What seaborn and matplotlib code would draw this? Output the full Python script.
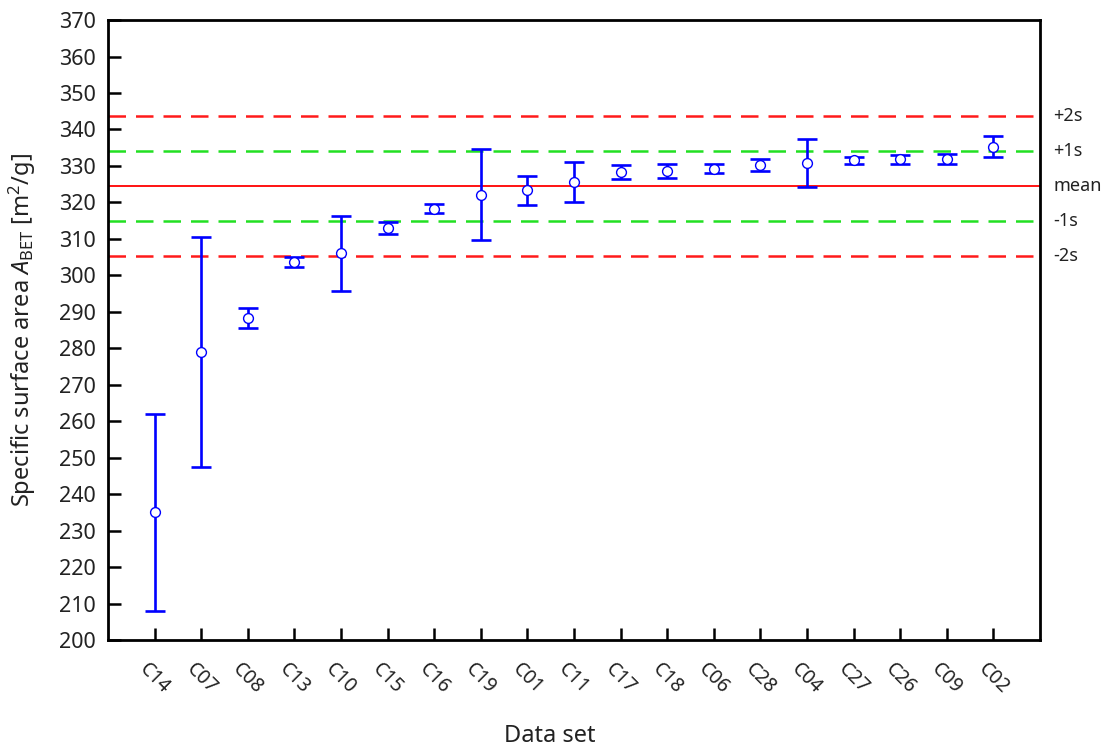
import numpy as np
import pandas as pd
import matplotlib
matplotlib.use("Agg")
import matplotlib.pyplot as plt
import matplotlib.transforms as mtransforms
import seaborn as sns

# Data sets ordered by mean specific surface area
datasets = ["C14", "C07", "C08", "C13", "C10", "C15", "C16", "C19", "C01", "C11",
            "C17", "C18", "C06", "C28", "C04", "C27", "C26", "C09", "C02"]
area_mean = [235.0, 279.0, 288.3, 303.7, 306.0, 313.0, 318.3, 322.1, 323.3, 325.5,
             328.4, 328.7, 329.2, 330.2, 330.8, 331.5, 331.8, 332.0, 335.3]
area_err = [26.9, 31.6, 2.8, 1.4, 10.2, 1.6, 1.3, 12.5, 4.0, 5.5,
            1.9, 1.9, 1.2, 1.6, 6.6, 1.0, 1.3, 1.4, 2.9]

# Overall mean and standard deviation of all data sets
grand_mean = 324.5
grand_sd = 9.6

y_ticks = list(range(200, 371, 10))

df = pd.DataFrame({"dataset": datasets, "area": area_mean, "err": area_err})

sns.set_theme(style="ticks")
plt.rcParams["font.family"] = ["Noto Sans", "DejaVu Sans"]
plt.rcParams["mathtext.fontset"] = "custom"
plt.rcParams["mathtext.rm"] = "Noto Sans"
plt.rcParams["mathtext.it"] = "Noto Sans:italic"
text_color = "#222222"

fig = plt.figure(figsize=(11.09, 7.53), dpi=100)
ax = fig.add_axes([0.0974, 0.150, 0.8404, 0.8234])

# Reference lines: mean, ±1s, ±2s
ax.axhline(grand_mean, color="#ff0000", lw=1.3, zorder=1)
for k, col in [(1, "#22e022"), (2, "#ff1a1a")]:
    for sign in (1, -1):
        ax.axhline(grand_mean + sign * k * grand_sd, color=col, lw=1.8,
                   ls=(0, (7, 4)), zorder=1)

# Error bars and open circle markers
ax.errorbar(df["dataset"], df["area"], yerr=df["err"], fmt="none",
            ecolor="#0000ff", elinewidth=1.9, capsize=7.5, capthick=1.9, zorder=2)
sns.scatterplot(data=df, x="dataset", y="area", ax=ax, marker="o", s=50,
                facecolor="white", edgecolor="#0000ff", linewidth=1.0, zorder=3)

ax.set_xlim(-1, len(datasets))
ax.set_ylim(200, 370)
ax.set_yticks(y_ticks)

for side in ["left", "right", "top", "bottom"]:
    ax.spines[side].set_visible(True)
    ax.spines[side].set_linewidth(2.0)
    ax.spines[side].set_color("black")

ax.tick_params(axis="both", direction="in", length=9, width=1.8, color="black",
               labelcolor=text_color)
ax.tick_params(axis="y", labelsize=15.5, pad=9)
ax.tick_params(axis="x", labelsize=14, pad=14)
for lbl in ax.get_xticklabels():
    lbl.set_rotation(-45)
    lbl.set_ha("center")
    lbl.set_va("top")

ax.set_ylabel(r"Specific surface area $A_{\mathrm{BET}}$ [m$^2$/g]", fontsize=17,
              color=text_color)
ax.set_xlabel("Data set", fontsize=17, color=text_color)
ax.yaxis.set_label_coords(-0.075, 0.5)
ax.xaxis.set_label_coords(0.474, -0.135)

# Labels for the reference lines on the right
trans = mtransforms.blended_transform_factory(ax.transAxes, ax.transData)
labels = [(2, "+2s"), (1, "+1s"), (0, "mean"), (-1, "-1s"), (-2, "-2s")]
for k, txt in labels:
    ax.text(1.014, grand_mean + k * grand_sd, txt, transform=trans, ha="left",
            va="center", fontsize=13, color=text_color)

fig.savefig("out.png", dpi=100)
